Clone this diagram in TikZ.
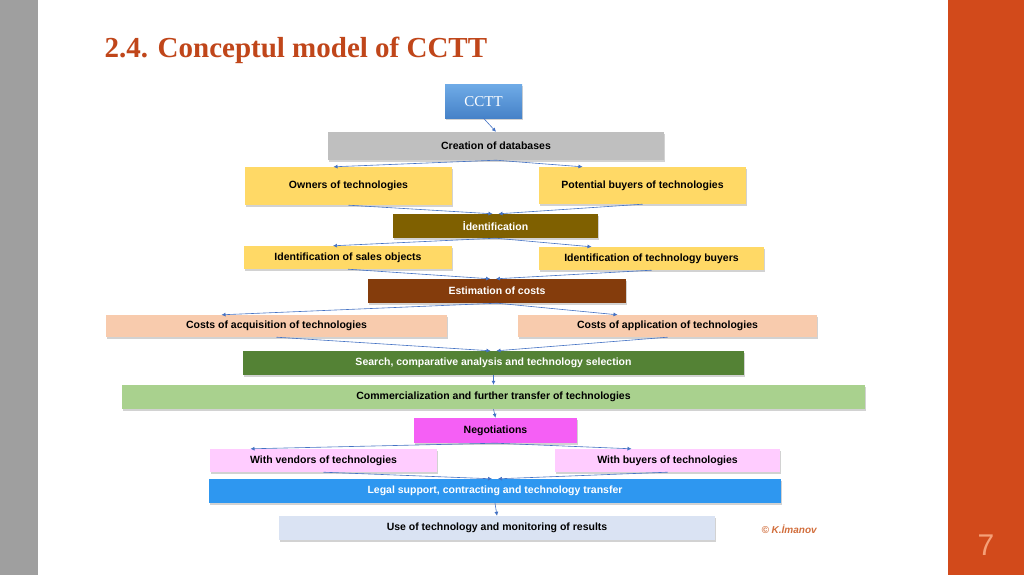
\documentclass[tikz,border=0pt]{standalone}
\usepackage{fontspec}
\setmainfont{Liberation Sans}
\newfontfamily\titlefont{Liberation Serif}
\usetikzlibrary{shadows,calc,arrows.meta}
\definecolor{arr}{HTML}{4472C4}
\begin{document}
\begin{tikzpicture}[x=1pt,y=-1pt,
  box/.style={draw=none,inner sep=0pt,font=\bfseries\fontsize{10.5}{12}\selectfont,
    drop shadow={shadow xshift=1pt,shadow yshift=-1.5pt,opacity=0.35}},
  con/.style={draw=arr,line width=0.6pt,-{Latex[length=4pt,width=4pt]}}]
\useasboundingbox (0,0) rectangle (1024,575);
\fill[white] (0,0) rectangle (1024,575);
\fill[gray!75!white] (0,0) rectangle (38,575);
\fill[fill={rgb,255:red,210;green,74;blue,27}] (948,0) rectangle (1024,575);
\node[anchor=west,text={rgb,255:red,192;green,70;blue,26},font=\titlefont\bfseries\fontsize{29}{32}\selectfont] (title) at (101,50) {2.4. Conceptul model of CCTT};
\node[text={rgb,255:red,245;green,160;blue,120},font=\fontsize{30}{32}\selectfont] (pg) at (986,545) {7};
\node[text={rgb,255:red,210;green,110;blue,60},font=\bfseries\itshape\fontsize{10}{12}\selectfont,anchor=west] (cr) at (758,529) {© K.İmanov};

\node[box,top color={rgb,255:red,110;green,170;blue,230},bottom color={rgb,255:red,70;green,130;blue,200},text=white,font=\titlefont\fontsize{15}{17}\selectfont,minimum width=77,minimum height=33] (cctt) at (483.5,101.5) {CCTT};
\node[box,fill={rgb,255:red,191;green,191;blue,191},minimum width=336,minimum height=28] (db) at (496,146) {Creation of databases};
\node[box,fill={rgb,255:red,255;green,217;blue,102},minimum width=207,minimum height=38] (own) at (348.5,186) {Owners of technologies};
\node[box,fill={rgb,255:red,255;green,217;blue,102},minimum width=207,minimum height=37] (pot) at (642.5,185.5) {Potential buyers of technologies};
\node[box,fill={rgb,255:red,127;green,96;blue,0},text=white,minimum width=205,minimum height=24] (idn) at (495.5,226) {İdentification};
\node[box,fill={rgb,255:red,255;green,217;blue,102},minimum width=208,minimum height=23] (iso) at (348,257.5) {Identification of sales objects};
\node[box,fill={rgb,255:red,255;green,217;blue,102},minimum width=225,minimum height=23] (itb) at (651.5,258.5) {Identification of technology buyers};
\node[box,fill={rgb,255:red,132;green,60;blue,12},text=white,minimum width=258,minimum height=24] (est) at (497,291) {Estimation of costs};
\node[box,fill={rgb,255:red,248;green,203;blue,173},minimum width=341,minimum height=22] (acq) at (276.5,326) {Costs of acquisition of technologies};
\node[box,fill={rgb,255:red,248;green,203;blue,173},minimum width=299,minimum height=22] (app) at (667.5,326) {Costs of application of technologies};
\node[box,fill={rgb,255:red,84;green,130;blue,53},text=white,minimum width=501,minimum height=24] (srch) at (493.5,363) {Search, comparative analysis and technology selection};
\node[box,fill={rgb,255:red,169;green,209;blue,142},minimum width=743,minimum height=24] (com) at (493.5,397) {Commercialization and further transfer of technologies};
\node[box,fill={rgb,255:red,245;green,95;blue,245},minimum width=163,minimum height=25] (neg) at (495.5,430.5) {Negotiations};
\node[box,fill={rgb,255:red,255;green,204;blue,255},minimum width=227,minimum height=23] (ven) at (323.5,460.5) {With vendors of technologies};
\node[box,fill={rgb,255:red,255;green,204;blue,255},minimum width=225,minimum height=23] (buy) at (667.5,460.5) {With buyers of technologies};
\node[box,fill={rgb,255:red,46;green,151;blue,240},text=white,minimum width=572,minimum height=24] (leg) at (495,491) {Legal support, contracting and technology transfer};
\node[box,fill={rgb,255:red,218;green,227;blue,243},minimum width=436,minimum height=24] (use) at (497,528) {Use of technology and monitoring of results};

\draw[con] (cctt.south) -- (db.north);
\draw[con] (db.south) -- ($(own.north)+(-15,0)$);
\draw[con] (db.south) -- ($(pot.north)+(-60,0)$);
\draw[con] (own.south) -- ($(idn.north)+(-3,0)$);
\draw[con] (pot.south) -- ($(idn.north)+(3,0)$);
\draw[con] (idn.south) -- ($(iso.north)+(-15,0)$);
\draw[con] (idn.south) -- ($(itb.north)+(-60,0)$);
\draw[con] (iso.south) -- ($(est.north)+(-7,0)$);
\draw[con] (itb.south) -- ($(est.north)+(-1,0)$);
\draw[con] (est.south) -- ($(acq.north)+(-55,0)$);
\draw[con] (est.south) -- ($(app.north)+(-50,0)$);
\draw[con] (acq.south) -- ($(srch.north)+(-3,0)$);
\draw[con] (app.south) -- ($(srch.north)+(3,0)$);
\draw[con] (srch.south) -- (com.north);
\draw[con] (com.south) -- (neg.north);
\draw[con] (neg.south) -- ($(ven.north)+(-73,0)$);
\draw[con] (neg.south) -- ($(buy.north)+(-36,0)$);
\draw[con] (ven.south) -- ($(leg.north)+(-3,0)$);
\draw[con] (buy.south) -- ($(leg.north)+(3,0)$);
\draw[con] (leg.south) -- (use.north);
\end{tikzpicture}
\end{document}
